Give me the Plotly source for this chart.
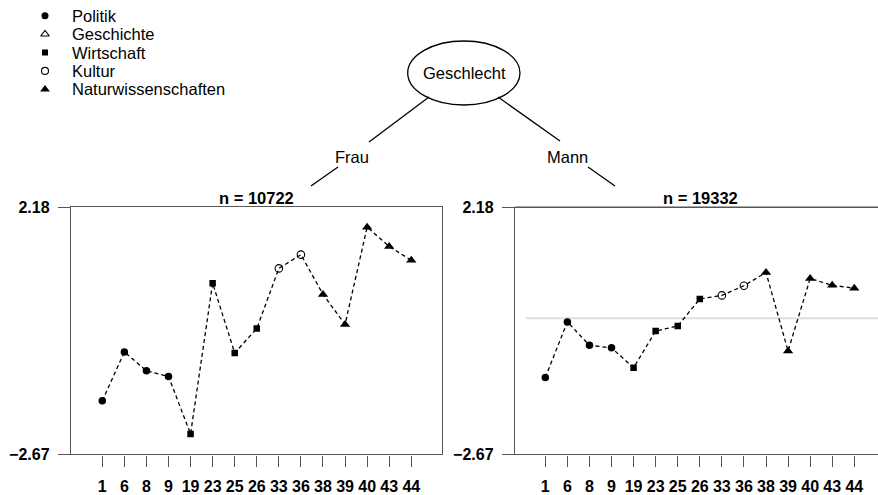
import plotly.graph_objects as go

# ---------------- data ----------------
categories = ["1", "6", "8", "9", "19", "23", "25", "26", "33", "36", "38", "39", "40", "43", "44"]
groups = (["Politik"] * 4 + ["Wirtschaft"] * 4 + ["Kultur"] * 2 +
          ["Naturwissenschaften"] * 5)
frau_values = [-1.62, -0.66, -1.03, -1.14, -2.27, 0.69, -0.68, -0.20, 0.98, 1.25,
               0.47, -0.12, 1.79, 1.41, 1.14]
mann_values = [-1.16, -0.07, -0.53, -0.58, -0.97, -0.25, -0.15, 0.38, 0.45, 0.64,
               0.90, -0.64, 0.78, 0.65, 0.59]
legend_labels = ["Politik", "Geschichte", "Wirtschaft", "Kultur", "Naturwissenschaften"]
y_tickvals = [2.18, -2.67]
y_ticktext = ["2.18", "\u22122.67"]
panel_titles = ["n = 10722", "n = 19332"]
branch_labels = ["Frau", "Mann"]
root_label = "Geschlecht"
reference_value = 0.0

# ---------------- styling ----------------
W, H = 878, 495
FONT = "Liberation Sans, Arial, Helvetica, sans-serif"
INK = "black"
BOX = "#555555"

symbols = {
    "Politik": dict(symbol="circle", size=7.5),
    "Geschichte": dict(symbol="triangle-up-open", size=8),
    "Wirtschaft": dict(symbol="square", size=6.5),
    "Kultur": dict(symbol="circle-open", size=7.5),
    "Naturwissenschaften": dict(symbol="triangle-up", size=9),
}


def marker_style(g, shrink=0.0):
    s = symbols[g]
    is_open = "open" in s["symbol"]
    return dict(symbol=s["symbol"], size=s["size"] - shrink, color=INK,
                line=dict(color=INK, width=1.1 if is_open else 0))


def px(x):
    return x / W


def py(y):
    return 1 - y / H


idx = list(range(len(categories)))

fig = go.Figure()

panels = [
    dict(values=frau_values, xa="x", ya="y", rng=(-1.418, 15.406)),
    dict(values=mann_values, xa="x2", ya="y2", rng=(-1.373, 15.075)),
]

for p in panels:
    fig.add_trace(go.Scatter(x=idx, y=p["values"], mode="lines",
                             line=dict(color=INK, width=1.3, dash="4px,3px"),
                             xaxis=p["xa"], yaxis=p["ya"], showlegend=False,
                             hoverinfo="skip"))
    for g in legend_labels:
        xs = [i for i in idx if groups[i] == g]
        if not xs:
            continue
        ys = [p["values"][i] for i in xs]
        fig.add_trace(go.Scatter(
            x=xs, y=ys, mode="markers", xaxis=p["xa"], yaxis=p["ya"],
            marker=marker_style(g), showlegend=False, name=g))

# reference line in right panel
fig.add_shape(type="line", xref="x2", yref="y2", x0=-0.875, x1=15.075,
              y0=reference_value, y1=reference_value,
              line=dict(color="#dedede", width=2), layer="below")

y_dom = (py(454.3), py(207.3))
axis_common = dict(showgrid=False, zeroline=False, showline=True, linecolor=BOX,
                   linewidth=1.4, ticks="outside", tickcolor=BOX, tickwidth=1.2,
                   tickfont=dict(family=FONT, size=16, color=INK, weight="bold"),
                   fixedrange=True, automargin=False)

fig.update_layout(
    xaxis=dict(domain=[px(71), px(442.3)], range=list(panels[0]["rng"]), tickvals=idx,
               ticktext=categories, ticklen=11, ticklabelstandoff=6, mirror=True,
               anchor="y", **axis_common),
    yaxis=dict(domain=list(y_dom), range=[-2.67, 2.18], tickvals=y_tickvals,
               ticktext=y_ticktext, ticklen=12, ticklabelstandoff=5, mirror=True,
               anchor="x", **axis_common),
    xaxis2=dict(domain=[px(515), 1.0], range=list(panels[1]["rng"]), tickvals=idx,
                ticktext=categories, ticklen=11, ticklabelstandoff=6, anchor="y2",
                **axis_common),
    yaxis2=dict(domain=list(y_dom), range=[-2.67, 2.18], tickvals=y_tickvals,
                ticktext=y_ticktext, ticklen=12, ticklabelstandoff=5, anchor="x2",
                **axis_common),
    xaxis3=dict(domain=[0, px(300)], range=[0, 300], visible=False, fixedrange=True,
                anchor="y3", automargin=False),
    yaxis3=dict(domain=[py(110), 1], range=[110, 0], visible=False, fixedrange=True,
                anchor="x3", automargin=False),
    width=W, height=H, margin=dict(l=0, r=0, t=0, b=0, pad=0, autoexpand=False),
    paper_bgcolor="white", plot_bgcolor="rgba(0,0,0,0)", showlegend=False,
)

# top border of the right panel (box continues past the picture edge)
fig.add_shape(type="line", xref="paper", yref="paper", x0=px(515), x1=1.0,
              y0=py(207.3), y1=py(207.3), line=dict(color=BOX, width=1.4))

annotations = []
for title, cx in zip(panel_titles, [256.5, 700.5]):
    annotations.append(dict(text=title, x=px(cx), y=py(198), xref="paper", yref="paper",
                            showarrow=False, xanchor="center", yanchor="middle",
                            font=dict(family=FONT, size=16.5, color=INK, weight="bold")))

# legend (manual)
leg_x, leg_y0, leg_step, leg_text_x = 45, 15.7, 18.4, 70
for i, g in enumerate(legend_labels):
    fig.add_trace(go.Scatter(
        x=[leg_x], y=[leg_y0 + i * leg_step], mode="markers", xaxis="x3", yaxis="y3",
        marker=marker_style(g, shrink=0.5), showlegend=False, hoverinfo="skip"))
    annotations.append(dict(text=g, x=px(leg_text_x), y=py(leg_y0 + i * leg_step),
                            xref="paper", yref="paper", showarrow=False,
                            xanchor="left", yanchor="middle",
                            font=dict(family=FONT, size=16.5, color=INK)))

# tree diagram
fig.add_shape(type="circle", xref="paper", yref="paper", x0=px(407.7), x1=px(520),
              y0=py(105), y1=py(41), line=dict(color=INK, width=1.3))
annotations.append(dict(text=root_label, x=px(464), y=py(73), xref="paper", yref="paper",
                        showarrow=False, xanchor="center", yanchor="middle",
                        font=dict(family=FONT, size=16.5, color=INK)))
tree_lines = [((429, 97), (369, 142)), ((338, 167), (311, 186)),
              ((498, 97), (560, 141)), ((588, 167), (615, 186))]
for (x0, y0), (x1, y1) in tree_lines:
    fig.add_shape(type="line", xref="paper", yref="paper", x0=px(x0), y0=py(y0),
                  x1=px(x1), y1=py(y1), line=dict(color=INK, width=1.3))
for lab, cx in zip(branch_labels, [352, 567]):
    annotations.append(dict(text=lab, x=px(cx), y=py(157), xref="paper", yref="paper",
                            showarrow=False, xanchor="center", yanchor="middle",
                            font=dict(family=FONT, size=16.5, color=INK)))

fig.update_layout(annotations=annotations)
fig.write_html("out.html")
